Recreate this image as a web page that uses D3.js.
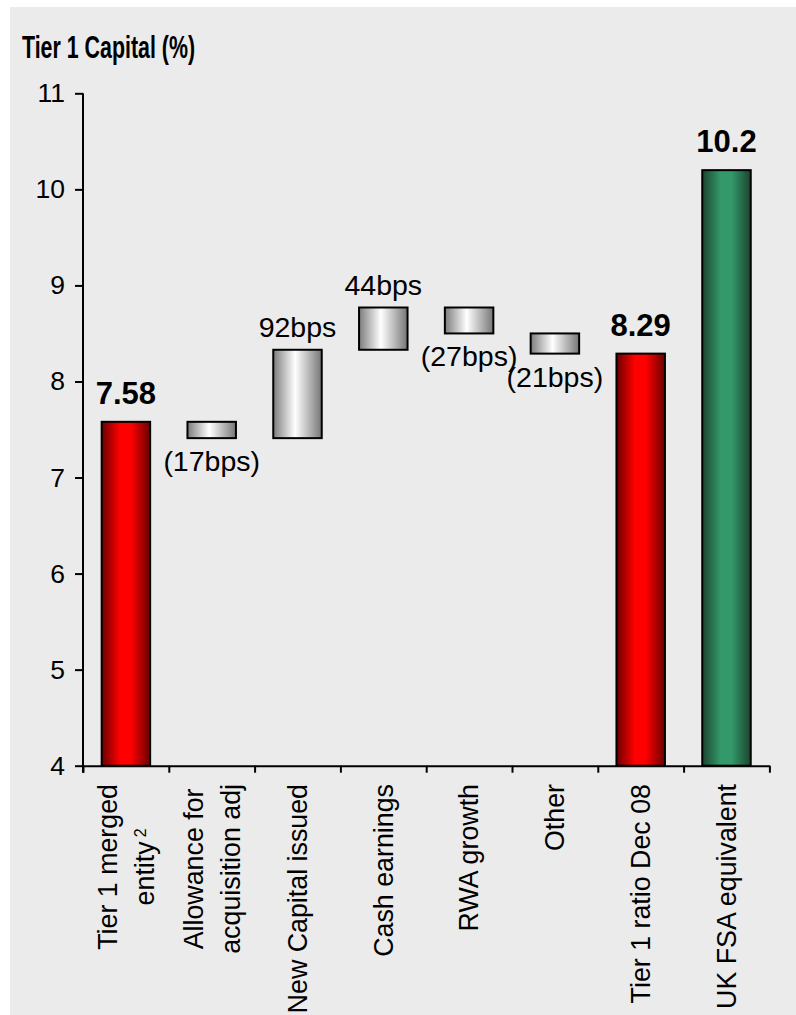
<!DOCTYPE html>
<html>
<head>
<meta charset="utf-8">
<script src="https://cdn.jsdelivr.net/npm/d3@7/dist/d3.min.js"></script>
<style>
  html, body { margin: 0; padding: 0; background: #ffffff; }
  svg { display: block; }
  text { font-family: "Liberation Sans", Arial, sans-serif; fill: #000; }
</style>
</head>
<body>
<svg id="chart" width="796" height="1015"></svg>
<script>
// Tier 1 capital walk: opening ratio, movements in basis points, closing ratio, FSA equivalent
const categoryLines = [
  ["Tier 1 merged", "entity"],
  ["Allowance for", "acquisition adj"],
  ["New Capital issued"],
  ["Cash earnings"],
  ["RWA  growth"],
  ["Other"],
  ["Tier 1 ratio Dec 08"],
  ["UK FSA equivalent"]
];
const footnoteMarks = ["2", "", "", "", "", "", "", ""];
const openingRatio = 7.58;
const movementsBps = [-17, 92, 44, -27, -21];
const closingRatio = 8.29;
const fsaEquivalent = 10.2;
const yTickValues = [4, 5, 6, 7, 8, 9, 10, 11];
const titleText = "Tier 1 Capital (%)";

// Build the waterfall segments
const bars = [];
bars.push({ kind: "total", lo: 4, hi: openingRatio, label: String(openingRatio) });
let running = openingRatio;
movementsBps.forEach(bps => {
  const next = +(running + bps / 100).toFixed(4);
  bars.push({
    kind: "step",
    lo: Math.min(running, next),
    hi: Math.max(running, next),
    up: bps > 0,
    label: bps > 0 ? bps + "bps" : "(" + Math.abs(bps) + "bps)"
  });
  running = next;
});
bars.push({ kind: "total", lo: 4, hi: closingRatio, label: String(closingRatio) });
bars.push({ kind: "bench", lo: 4, hi: fsaEquivalent, label: String(fsaEquivalent) });
bars.forEach((b, i) => b.i = i);

const svg = d3.select("#chart");

// panel background
svg.append("rect").attr("x", 10).attr("y", 7).attr("width", 786).attr("height", 1008)
  .attr("fill", "#ebebeb");

// gradients
const defs = svg.append("defs");
function hGrad(id, stops) {
  const g = defs.append("linearGradient").attr("id", id)
    .attr("x1", "0%").attr("x2", "100%").attr("y1", "0%").attr("y2", "0%");
  stops.forEach(([o, c]) => g.append("stop").attr("offset", o).attr("stop-color", c));
}
hGrad("gRed", [[0, "#6a0000"], [0.38, "#ff0000"], [0.6, "#ff0000"], [1, "#6a0000"]]);
hGrad("gGreen", [[0, "#1b4530"], [0.38, "#33996a"], [0.6, "#33996a"], [1, "#1b4530"]]);
hGrad("gGrey", [[0, "#7c7c7c"], [0.45, "#ffffff"], [1, "#767676"]]);
const fillFor = { total: "url(#gRed)", bench: "url(#gGreen)", step: "url(#gGrey)" };

const plotLeft = 83, plotRight = 769.4, plotBottom = 765.7, plotTop = 93.3;
const y = d3.scaleLinear().domain([4, 11]).range([plotBottom, plotTop]);
const x = d3.scaleBand().domain(d3.range(categoryLines.length)).range([plotLeft, plotRight])
  .paddingInner(0.435).paddingOuter(0.2175);
const edge = d3.scaleLinear().domain([0, categoryLines.length]).range([plotLeft, plotRight]);

// title, set in a condensed bold face
svg.append("text")
  .attr("transform", "translate(22,58) scale(0.69,1)")
  .style("font-weight", "bold").style("font-size", "31px")
  .text(titleText);

// bars
svg.append("g").selectAll("rect").data(bars).join("rect")
  .attr("x", d => x(d.i))
  .attr("width", x.bandwidth())
  .attr("y", d => y(d.hi))
  .attr("height", d => y(d.lo) - y(d.hi))
  .attr("fill", d => fillFor[d.kind])
  .attr("stroke", "#000").attr("stroke-width", 2);

// axes
const yAxis = svg.append("g").attr("transform", `translate(${plotLeft},0)`)
  .call(d3.axisLeft(y).tickValues(yTickValues).tickFormat(d3.format("d"))
    .tickSize(8).tickSizeOuter(0).tickPadding(10));
yAxis.selectAll("text").style("font-size", "26.5px").style("font-family", "'Liberation Sans', Arial, sans-serif");
yAxis.selectAll("line, path").attr("stroke", "#000").attr("stroke-width", 2);
yAxis.select(".domain").attr("d", `M0,${plotTop}V${plotBottom + 7}`);

const xAxis = svg.append("g").attr("transform", `translate(0,${plotBottom})`)
  .call(d3.axisBottom(edge).tickValues(d3.range(categoryLines.length + 1)).tickFormat("").tickSize(7).tickSizeOuter(0));
xAxis.selectAll("line, path").attr("stroke", "#000").attr("stroke-width", 2);

// value labels
svg.append("g").selectAll("text").data(bars).join("text")
  .attr("x", d => x(d.i) + x.bandwidth() / 2)
  .attr("y", d => d.kind === "step" ? (d.up ? y(d.hi) - 13 : y(d.lo) + 33) : y(d.hi) - 18)
  .attr("text-anchor", "middle")
  .style("font-size", d => d.kind === "step" ? "28.5px" : "31px")
  .style("font-weight", d => d.kind === "step" ? "normal" : "bold")
  .text(d => d.label);

// category labels, rotated
const lineGap = 37, labelTop = 784;
const cats = svg.append("g").selectAll("g").data(categoryLines).join("g")
  .attr("transform", (d, i) => `translate(${x(i) + x.bandwidth() / 2},${labelTop}) rotate(-90)`);
cats.each(function (lines, i) {
  const g = d3.select(this);
  const texts = lines.map((ln, k) => {
    const t = g.append("text")
      .attr("y", (k - (lines.length - 1) / 2) * lineGap)
      .attr("dy", "0.35em")
      .style("font-size", "26.8px")
      .text(ln);
    if (k === lines.length - 1 && footnoteMarks[i]) {
      t.append("tspan").attr("dx", 4).attr("dy", "-0.5em").style("font-size", "16px").text(footnoteMarks[i]);
    }
    return t;
  });
  const widths = texts.map(t => t.node().getComputedTextLength());
  const maxW = d3.max(widths);
  texts.forEach(t => t.attr("x", -maxW / 2).attr("text-anchor", "middle"));
});
</script>
</body>
</html>
